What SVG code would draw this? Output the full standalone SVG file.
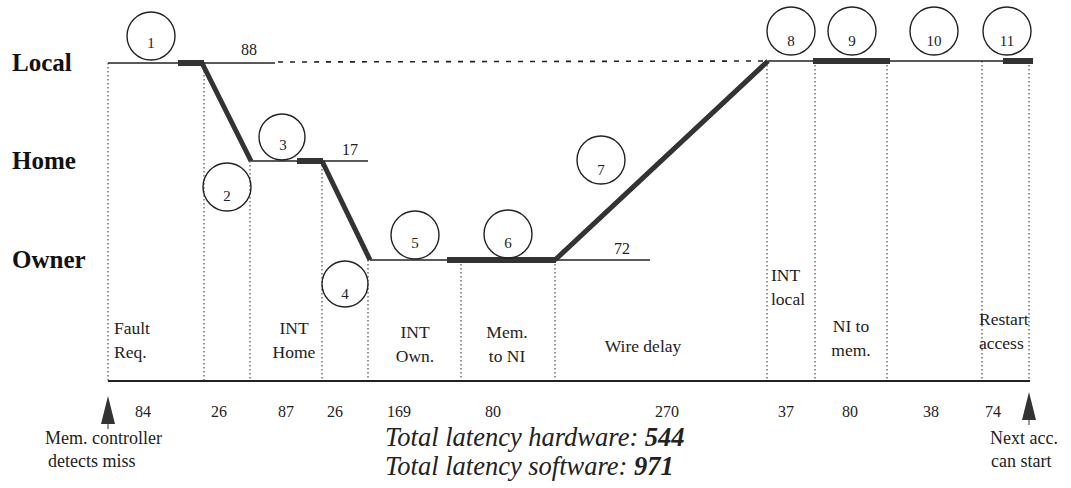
<svg xmlns="http://www.w3.org/2000/svg" width="1071" height="488" viewBox="0 0 1071 488">
<style>
text{font-family:"Liberation Serif","Times New Roman",serif;fill:#222}
.lane{font-size:25px;font-weight:bold;fill:#111}
.lbl{font-size:17.5px}
.note{font-size:18px}
.num{font-size:16px}
.cn{font-size:15px;text-anchor:middle}
.tot{font-size:26.5px;font-style:italic}
.thin{stroke:#222;stroke-width:1.6;fill:none}
.thick{stroke:#333;stroke-width:6;fill:none;stroke-linecap:butt}
.dot{stroke:#666;stroke-width:1.4;stroke-dasharray:1.5 2.5;fill:none}
.dash{stroke:#222;stroke-width:1.6;stroke-dasharray:5 7;fill:none}
.circ{fill:none;stroke:#222;stroke-width:1.4}
.c{text-anchor:middle}
</style>
<rect width="1071" height="488" fill="#fff"/>
<g id="lanes">
<text class="lane" x="12" y="71">Local</text>
<text class="lane" x="12" y="169">Home</text>
<text class="lane" x="12" y="268">Owner</text>
</g>
<g id="grid">
<line class="dot" x1="108" y1="63" x2="108" y2="381"/>
<line class="dot" x1="204" y1="63" x2="204" y2="381"/>
<line class="dot" x1="250" y1="161" x2="250" y2="381"/>
<line class="dot" x1="322" y1="161" x2="322" y2="381"/>
<line class="dot" x1="368" y1="260" x2="368" y2="381"/>
<line class="dot" x1="461" y1="260" x2="461" y2="381"/>
<line class="dot" x1="555" y1="260" x2="555" y2="381"/>
<line class="dot" x1="767" y1="61" x2="767" y2="381"/>
<line class="dot" x1="815" y1="61" x2="815" y2="381"/>
<line class="dot" x1="887" y1="61" x2="887" y2="381"/>
<line class="dot" x1="982" y1="61" x2="982" y2="381"/>
<line class="dot" x1="1029" y1="61" x2="1029" y2="381"/>
<line class="thin" x1="108" y1="381" x2="1030" y2="381" style="stroke-width:2"/>
</g>
<g id="connectors">
<line class="thin" x1="108" y1="63" x2="275" y2="63"/>
<line class="dash" x1="278" y1="62" x2="766" y2="61"/>
<line class="thin" x1="251" y1="161" x2="368" y2="161"/>
<line class="thin" x1="370" y1="260" x2="650" y2="260"/>
<line class="thin" x1="768" y1="61" x2="1033" y2="61"/>
<line class="thick" x1="178" y1="63" x2="204" y2="63"/>
<polyline class="thick" points="202,63 251,161" style="stroke-width:5"/>
<line class="thick" x1="297" y1="161" x2="323" y2="161"/>
<polyline class="thick" points="322,161 370,260" style="stroke-width:5"/>
<line class="thick" x1="447" y1="260" x2="556" y2="260"/>
<polyline class="thick" points="555,260 768,61" style="stroke-width:5"/>
<line class="thick" x1="813" y1="61" x2="890" y2="61"/>
<line class="thick" x1="1003" y1="61" x2="1033" y2="61"/>
</g>
<g id="steps">
<g id="s1"><circle class="circ" cx="151" cy="36" r="24"/><text class="cn" x="151" y="48">1</text></g>
<g id="s2"><circle class="circ" cx="227" cy="187" r="24"/><text class="cn" x="227" y="201">2</text></g>
<g id="s3"><circle class="circ" cx="282" cy="137" r="23"/><text class="cn" x="283" y="150">3</text></g>
<g id="s4"><circle class="circ" cx="345" cy="284" r="23"/><text class="cn" x="345" y="299">4</text></g>
<g id="s5"><circle class="circ" cx="415" cy="235" r="24"/><text class="cn" x="415" y="248">5</text></g>
<g id="s6"><circle class="circ" cx="508" cy="234" r="24"/><text class="cn" x="508" y="248">6</text></g>
<g id="s7"><circle class="circ" cx="601" cy="160" r="24"/><text class="cn" x="601" y="175">7</text></g>
<g id="s8"><circle class="circ" cx="791" cy="31" r="24"/><text class="cn" x="791" y="46">8</text></g>
<g id="s9"><circle class="circ" cx="852" cy="31" r="24"/><text class="cn" x="852" y="46">9</text></g>
<g id="s10"><circle class="circ" cx="934" cy="31" r="24"/><text class="cn" x="934" y="46">10</text></g>
<g id="s11"><circle class="circ" cx="1007" cy="31" r="24"/><text class="cn" x="1007" y="46">11</text></g>
</g>
<g id="values">
<text class="num" x="241" y="55">88</text>
<text class="num" x="342" y="155">17</text>
<text class="num" x="614" y="254">72</text>
</g>
<g id="phases">
<text class="lbl" x="114" y="334">Fault</text>
<text class="lbl" x="114" y="358">Req.</text>
<text class="lbl c" x="294" y="334">INT</text>
<text class="lbl c" x="294" y="358">Home</text>
<text class="lbl c" x="415" y="338">INT</text>
<text class="lbl c" x="415" y="362">Own.</text>
<text class="lbl c" x="507" y="338">Mem.</text>
<text class="lbl c" x="507" y="362">to NI</text>
<text class="lbl c" x="643" y="352">Wire delay</text>
<text class="lbl" x="771" y="281">INT</text>
<text class="lbl" x="771" y="305">local</text>
<text class="lbl c" x="851" y="332">NI to</text>
<text class="lbl c" x="851" y="356">mem.</text>
<text class="lbl" x="979" y="325">Restart</text>
<text class="lbl" x="979" y="349">access</text>
</g>
<g id="durations">
<text class="num c" x="143" y="417">84</text>
<text class="num c" x="219" y="417">26</text>
<text class="num c" x="286" y="417">87</text>
<text class="num c" x="335" y="417">26</text>
<text class="num c" x="399" y="417">169</text>
<text class="num c" x="493" y="417">80</text>
<text class="num c" x="667" y="417">270</text>
<text class="num c" x="786" y="417">37</text>
<text class="num c" x="850" y="417">80</text>
<text class="num c" x="931" y="417">38</text>
<text class="num c" x="993" y="417">74</text>
</g>
<g id="arrows">
<polygon points="108,396 101,424 115,424" fill="#333"/>
<line x1="108" y1="424" x2="108" y2="429" stroke="#333" stroke-width="1"/>
<polygon points="1029,392 1022,420 1036,420" fill="#333"/>
<line x1="1029" y1="420" x2="1029" y2="425" stroke="#333" stroke-width="1"/>
<text class="note" x="45" y="444">Mem. controller</text>
<text class="note" x="48" y="467">detects miss</text>
<text class="note" x="990" y="444">Next acc.</text>
<text class="note" x="991" y="467">can start</text>
</g>
<g id="totals">
<text class="tot" x="385" y="446">Total latency hardware: <tspan font-weight="bold">544</tspan></text>
<text class="tot" x="385" y="475">Total latency software: <tspan font-weight="bold">971</tspan></text>
</g>
</svg>
